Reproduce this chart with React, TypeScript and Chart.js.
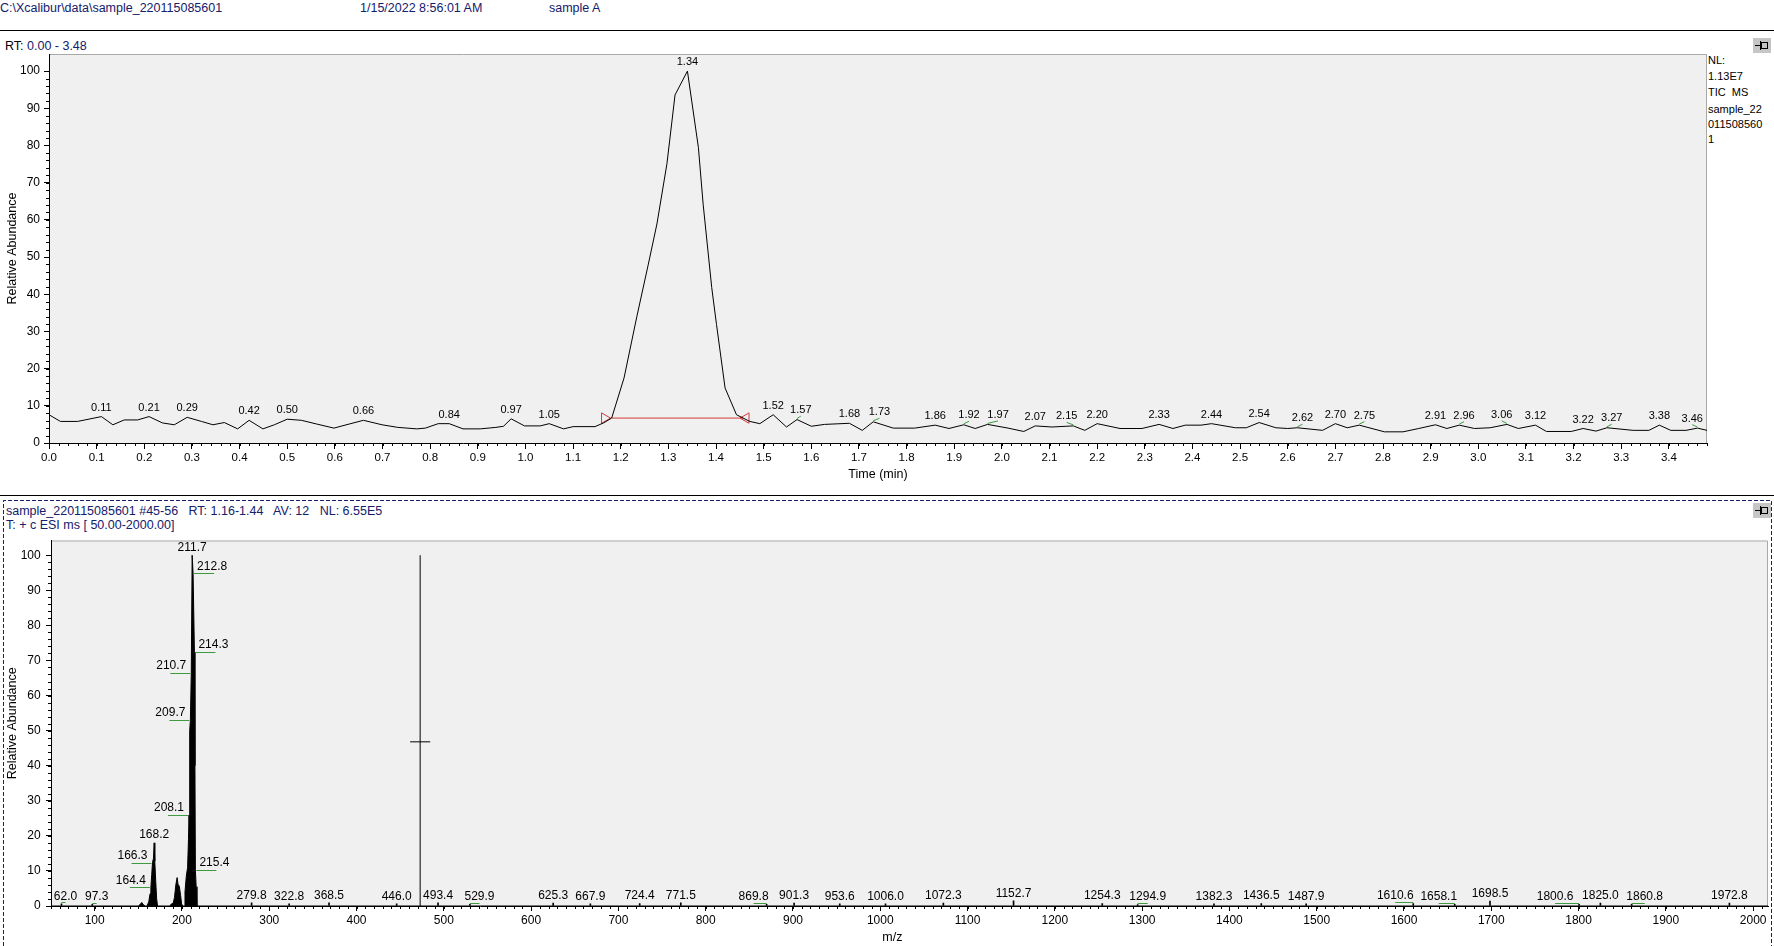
import React, { useEffect, useRef } from "react";
import { Chart, registerables } from "chart.js";

Chart.register(...registerables);

const FONT = '"Liberation Sans", Arial, Helvetica, sans-serif';
const NAVY = "#14206c";
const GREEN = "#3f9a3f";
const RED = "#d23a3a";

// ---------------- TIC chromatogram (top) ----------------
const ticTime = [
  0.0, 0.024, 0.06, 0.11, 0.134, 0.158, 0.186, 0.21, 0.238, 0.263, 0.29, 0.32, 0.344, 0.368, 0.396, 0.42,
  0.449, 0.473, 0.5, 0.53, 0.562, 0.598, 0.63, 0.66, 0.699, 0.732, 0.772, 0.79, 0.817, 0.84, 0.869, 0.905,
  0.938, 0.954, 0.97, 0.998, 1.031, 1.05, 1.08, 1.1, 1.146, 1.164, 1.181, 1.207, 1.234, 1.258, 1.276, 1.297,
  1.314, 1.34, 1.363, 1.373, 1.391, 1.401, 1.419, 1.443, 1.471, 1.492, 1.52, 1.548, 1.57, 1.6, 1.628, 1.68,
  1.707, 1.73, 1.772, 1.817, 1.86, 1.889, 1.92, 1.944, 1.97, 2.013, 2.046, 2.07, 2.105, 2.15, 2.174, 2.2,
  2.248, 2.294, 2.33, 2.359, 2.385, 2.418, 2.44, 2.49, 2.513, 2.54, 2.575, 2.6, 2.62, 2.673, 2.7, 2.725,
  2.75, 2.803, 2.842, 2.875, 2.91, 2.934, 2.96, 2.992, 3.025, 3.06, 3.084, 3.12, 3.143, 3.195, 3.22, 3.247,
  3.27, 3.325, 3.358, 3.38, 3.404, 3.436, 3.46, 3.48,
];
const ticAbundance = [
  7.6, 5.8, 5.8, 7.1, 4.9, 6.2, 6.2, 7.1, 5.4, 4.9, 6.9, 5.8, 4.9, 5.5, 3.8, 6.1,
  3.8, 4.9, 6.4, 6.1, 5.1, 4.0, 5.1, 6.1, 4.9, 4.2, 3.8, 4.0, 5.2, 5.2, 3.8, 3.8,
  4.2, 4.5, 6.5, 4.6, 4.6, 5.2, 3.8, 4.4, 4.4, 5.4, 6.7, 17.5, 34.1, 48.1, 58.9, 75.1,
  93.6, 100, 79.5, 64.2, 41.8, 31.9, 14.8, 7.6, 5.8, 5.2, 7.6, 4.3, 6.3, 4.5, 5.0, 5.3,
  3.4, 5.7, 4.0, 4.0, 4.8, 3.9, 4.9, 3.9, 5.0, 4.0, 3.1, 4.6, 4.3, 4.6, 3.4, 5.2,
  3.9, 3.9, 5.0, 3.9, 4.8, 4.8, 5.2, 4.1, 4.1, 5.5, 4.1, 3.9, 4.1, 3.4, 5.2, 4.1,
  4.8, 3.0, 3.0, 3.9, 4.9, 3.9, 4.8, 3.9, 4.1, 5.0, 3.9, 4.8, 3.1, 3.1, 3.9, 3.2,
  4.1, 3.4, 3.4, 4.8, 3.4, 3.4, 4.0, 3.4,
];
// retention times printed above the peaks
const ticPeakLabelTimes = [
  0.11, 0.21, 0.29, 0.42, 0.5, 0.66, 0.84, 0.97, 1.05, 1.34, 1.52, 1.57, 1.68, 1.73, 1.86, 1.92, 1.97,
  2.07, 2.15, 2.2, 2.33, 2.44, 2.54, 2.62, 2.7, 2.75, 2.91, 2.96, 3.06, 3.12, 3.22, 3.27, 3.38, 3.46,
];
// time at which each label's text is centred (moved labels get a green leader to their peak)
const ticLabelAnchorTimes = [
  0.11, 0.21, 0.29, 0.42, 0.5, 0.66, 0.84, 0.97, 1.05, 1.34, 1.52, 1.578, 1.68, 1.743, 1.86, 1.931, 1.992,
  2.07, 2.136, 2.2, 2.33, 2.44, 2.54, 2.631, 2.7, 2.761, 2.91, 2.97, 3.049, 3.12, 3.22, 3.28, 3.38, 3.449,
];
const integrationBaselineTimes = [1.181, 1.457];
const integrationBaselineLevel = 6.7;
const integrationMarkerTimes = [1.166, 1.463];
const integrationMarkerRotation = [90, -90];

const rtMin = 0;
const rtMax = 3.48;
const rtTicks = [
  0.0, 0.1, 0.2, 0.3, 0.4, 0.5, 0.6, 0.7, 0.8, 0.9, 1.0, 1.1, 1.2, 1.3, 1.4, 1.5, 1.6, 1.7,
  1.8, 1.9, 2.0, 2.1, 2.2, 2.3, 2.4, 2.5, 2.6, 2.7, 2.8, 2.9, 3.0, 3.1, 3.2, 3.3, 3.4,
];
const abundanceTicks = [0, 10, 20, 30, 40, 50, 60, 70, 80, 90, 100];

// ---------------- Mass spectrum (bottom) ----------------
const profileMz = [
  50, 150, 152, 154, 156, 158, 160, 162, 163.5, 164.4, 165.4, 166.3, 167.4, 168.2, 168.9, 170.0, 171.0, 172.0,
  186, 188, 190, 191.5, 193.0, 194.5, 195.5, 197.0, 198.5, 199.6, 201.0, 202.5, 203.5, 205.0, 206.5, 207.5,
  208.1, 208.6, 209.2, 209.7, 210.7, 211.7, 212.8, 214.3, 214.9, 215.4, 216.3, 217.2, 2017,
];
const profileAbundance = [
  0, 0, 0.4, 1.0, 0.3, 0, 0, 1.2, 3.5, 5.3, 9.0, 12.4, 13.6, 18.0, 12.8, 7.0, 2.2, 0,
  0, 0.6, 0.8, 2.5, 6.0, 8.1, 6.2, 5.6, 3.0, 0.6, 0, 0, 4.0, 8.5, 11.0, 19.0,
  25.9, 21.0, 50.0, 53.1, 66.4, 100, 94.8, 72.4, 40.0, 10.3, 5.5, 0, 0,
];
const profileTopLabels = [168.2, 211.7];
const profileLeftLabels = [164.4, 166.3, 208.1, 209.7, 210.7];
const profileRightLabels = [212.8, 214.3, 215.4];

const stickMz = [
  62.0, 97.3, 279.8, 322.8, 368.5, 446.0, 493.4, 529.9, 625.3, 667.9, 724.4, 771.5, 869.8, 901.3, 953.6,
  1006.0, 1072.3, 1152.7, 1254.3, 1294.9, 1382.3, 1436.5, 1487.9, 1610.6, 1658.1, 1698.5, 1800.6, 1825.0,
  1860.8, 1972.8,
];
const stickAbundance = [
  0.6, 0.5, 0.9, 0.6, 0.9, 0.6, 0.9, 0.5, 0.8, 0.6, 0.7, 0.9, 0.5, 0.8, 0.6,
  0.6, 0.8, 1.5, 0.7, 0.4, 0.6, 0.7, 0.6, 0.7, 0.5, 1.4, 0.5, 0.8,
  0.5, 0.8,
];
// m/z at which each stick's label text is centred (moved labels get a green leader)
const stickLabelMz = [
  66.6, 102.3, 279.8, 322.8, 368.5, 446.0, 493.4, 540.9, 625.3, 667.9, 724.4, 771.5, 854.9, 901.3, 953.6,
  1006.0, 1072.3, 1152.7, 1254.3, 1306.4, 1382.3, 1436.5, 1487.9, 1590.0, 1639.8, 1698.5, 1773.1, 1825.0,
  1875.7, 1972.8,
];

const cursorMz = 472.9;
const cursorTop = 100;
const cursorLevel = 46.8;
const cursorHalfWidth = 11.5;

const mzMin = 50;
const mzMax = 2017;
const mzTicks = [
  100, 200, 300, 400, 500, 600, 700, 800, 900, 1000, 1100, 1200, 1300, 1400, 1500, 1600, 1700, 1800, 1900, 2000,
];

// ---------------- helpers ----------------
function valueAt(xs: number[], ys: number[], x: number): number {
  for (let i = 0; i < xs.length; i++) {
    if (Math.abs(xs[i] - x) < 1e-9) return ys[i];
    if (i > 0 && xs[i - 1] < x && x < xs[i]) {
      const f = (x - xs[i - 1]) / (xs[i] - xs[i - 1]);
      return ys[i - 1] + f * (ys[i] - ys[i - 1]);
    }
  }
  return 0;
}

const plotAreaPlugin = {
  id: "plotArea",
  beforeDraw(chart: any) {
    const { ctx, chartArea: a } = chart;
    ctx.save();
    ctx.fillStyle = "#f0f0f0";
    ctx.fillRect(a.left, a.top, a.right - a.left, a.bottom - a.top);
    ctx.strokeStyle = "#a9a9a9";
    ctx.lineWidth = 1;
    ctx.beginPath();
    ctx.moveTo(a.left, a.top + 0.5);
    ctx.lineTo(a.right - 0.5, a.top + 0.5);
    ctx.lineTo(a.right - 0.5, a.bottom);
    ctx.stroke();
    ctx.restore();
  },
};

function minorTicksPlugin(id: string, xStep: number, yStep: number, xLen: number, yLen: number) {
  return {
    id,
    afterDraw(chart: any) {
      const { ctx, chartArea: a } = chart;
      const xs = chart.scales.x;
      const ys = chart.scales.y;
      ctx.save();
      ctx.strokeStyle = "#000";
      ctx.lineWidth = 1;
      ctx.beginPath();
      const nx = Math.floor((xs.max - xs.min) / xStep + 1e-6);
      for (let i = 0; i <= nx; i++) {
        const px = Math.round(xs.getPixelForValue(xs.min + i * xStep)) + 0.5;
        ctx.moveTo(px, a.bottom);
        ctx.lineTo(px, a.bottom + xLen);
      }
      const ny = Math.floor((100 - ys.min) / yStep + 1e-6);
      for (let i = 0; i <= ny; i++) {
        const py = Math.round(ys.getPixelForValue(ys.min + i * yStep)) + 0.5;
        ctx.moveTo(a.left, py);
        ctx.lineTo(a.left - yLen, py);
      }
      ctx.stroke();
      ctx.restore();
    },
  };
}

const ticLabelPlugin = {
  id: "ticLabels",
  afterDatasetsDraw(chart: any) {
    const { ctx } = chart;
    const xs = chart.scales.x;
    const ys = chart.scales.y;
    ctx.save();
    ctx.font = `11px ${FONT}`;
    ctx.textAlign = "center";
    ctx.textBaseline = "middle";
    ctx.fillStyle = "#000";
    ticPeakLabelTimes.forEach((t, i) => {
      const v = valueAt(ticTime, ticAbundance, t);
      const px = xs.getPixelForValue(t);
      const lx = xs.getPixelForValue(ticLabelAnchorTimes[i]);
      const py = ys.getPixelForValue(v);
      if (Math.abs(lx - px) > 0.5) {
        ctx.fillText(t.toFixed(2), lx, py - 9.5);
        ctx.strokeStyle = GREEN;
        ctx.lineWidth = 1;
        ctx.beginPath();
        ctx.moveTo(px, py - 1);
        ctx.lineTo(lx, py - 3.5);
        ctx.stroke();
      } else {
        ctx.fillText(t.toFixed(2), px, py - 9);
      }
    });
    ctx.restore();
  },
};

const specLabelPlugin = {
  id: "specLabels",
  afterDatasetsDraw(chart: any) {
    const { ctx, chartArea: a } = chart;
    const xs = chart.scales.x;
    const ys = chart.scales.y;
    const green = (x1: number, x2: number, y: number) => {
      ctx.strokeStyle = GREEN;
      ctx.lineWidth = 1;
      ctx.beginPath();
      const yy = Math.round(y) + 0.5;
      ctx.moveTo(x1, yy);
      ctx.lineTo(x2, yy);
      ctx.stroke();
    };
    ctx.save();
    ctx.font = `12px ${FONT}`;
    ctx.textBaseline = "middle";
    ctx.fillStyle = "#000";
    profileTopLabels.forEach((mz) => {
      const px = xs.getPixelForValue(mz);
      const py = ys.getPixelForValue(valueAt(profileMz, profileAbundance, mz));
      ctx.textAlign = "center";
      ctx.fillText(mz.toFixed(1), px, py - 8);
    });
    profileLeftLabels.forEach((mz) => {
      const px = xs.getPixelForValue(mz);
      const py = ys.getPixelForValue(valueAt(profileMz, profileAbundance, mz));
      green(px - 21, px - 1, py);
      ctx.textAlign = "right";
      ctx.fillText(mz.toFixed(1), px - 5, py - 7);
    });
    profileRightLabels.forEach((mz) => {
      const px = xs.getPixelForValue(mz);
      const py = ys.getPixelForValue(valueAt(profileMz, profileAbundance, mz));
      green(px + 1, px + 21, py);
      ctx.textAlign = "left";
      ctx.fillText(mz.toFixed(1), px + 4, py - 7);
    });
    stickMz.forEach((mz, i) => {
      const px = xs.getPixelForValue(mz);
      const lx = xs.getPixelForValue(stickLabelMz[i]);
      const py = ys.getPixelForValue(stickAbundance[i]);
      ctx.textAlign = "center";
      if (Math.abs(lx - px) > 0.5) {
        green(Math.min(px, lx), Math.max(px, lx), py - 1.5);
      }
      ctx.fillText(mz.toFixed(1), lx, py - 7.5);
    });
    // axis title
    ctx.textAlign = "center";
    ctx.font = `12.5px ${FONT}`;
    ctx.fillText("m/z", a.left + 0.49 * (a.right - a.left), a.bottom + 32);
    ctx.restore();
  },
};

function Txt(props: { x: number; y: number; size?: number; color?: string; children: any }) {
  const size = props.size ?? 12.5;
  return (
    <div
      style={{
        position: "absolute",
        left: props.x,
        top: props.y - size * 0.6,
        fontSize: size,
        lineHeight: `${size * 1.2}px`,
        fontFamily: FONT,
        color: props.color ?? "#000",
        whiteSpace: "pre",
      }}
    >
      {props.children}
    </div>
  );
}

function Pin(props: { x: number; y: number }) {
  return (
    <svg style={{ position: "absolute", left: props.x, top: props.y }} width={18} height={15}>
      <rect x={0} y={0} width={18} height={15} fill="#c6c6c6" />
      <line x1={2} y1={7.5} x2={7} y2={7.5} stroke="#000" strokeWidth={1} />
      <line x1={7.5} y1={3} x2={7.5} y2={12} stroke="#000" strokeWidth={1} />
      <rect x={8.5} y={4.5} width={6} height={6} fill="none" stroke="#000" strokeWidth={1} />
    </svg>
  );
}

export default function App() {
  const topRef = useRef<HTMLCanvasElement | null>(null);
  const botRef = useRef<HTMLCanvasElement | null>(null);

  useEffect(() => {
    Chart.defaults.font.family = FONT;
    Chart.defaults.color = "#000";

    const topChart = new Chart(topRef.current as HTMLCanvasElement, {
      type: "scatter",
      data: {
        datasets: [
          {
            label: "TIC MS",
            data: ticTime.map((t, i) => ({ x: t, y: ticAbundance[i] })),
            showLine: true,
            borderColor: "#000",
            borderWidth: 1,
            pointRadius: 0,
            tension: 0,
            fill: false,
          },
          {
            label: "Integration baseline",
            data: integrationBaselineTimes.map((t) => ({ x: t, y: integrationBaselineLevel })),
            showLine: true,
            borderColor: RED,
            borderWidth: 1,
            pointRadius: 0,
          },
          {
            label: "Integration markers",
            data: integrationMarkerTimes.map((t) => ({ x: t, y: integrationBaselineLevel })),
            showLine: false,
            pointStyle: "triangle",
            pointRotation: integrationMarkerRotation,
            pointRadius: 6,
            pointBorderColor: RED,
            pointBackgroundColor: "rgba(0,0,0,0)",
            pointBorderWidth: 1,
          },
        ],
      } as any,
      options: {
        animation: false,
        responsive: false,
        maintainAspectRatio: false,
        events: [],
        layout: { padding: { left: 0, right: 67, top: 19, bottom: 2 } },
        plugins: { legend: { display: false }, tooltip: { enabled: false } },
        scales: {
          x: {
            type: "linear",
            min: rtMin,
            max: rtMax,
            afterFit: (s: any) => {
              s.height = 45;
            },
            afterBuildTicks: (s: any) => {
              s.ticks = rtTicks.map((v) => ({ value: v }));
            },
            ticks: {
              callback: (v: any) => Number(v).toFixed(1),
              font: { size: 11.5 },
              color: "#000",
              padding: 2.4,
              maxRotation: 0,
              autoSkip: false,
            },
            grid: { display: true, drawOnChartArea: false, drawTicks: true, tickLength: 6, color: "#000" },
            border: { display: true, color: "#000", width: 1 },
            title: {
              display: true,
              text: "Time (min)",
              color: "#000",
              font: { size: 12.5 },
              padding: { top: 0, bottom: 5.5 },
            },
          },
          y: {
            type: "linear",
            min: 0,
            max: 104.6,
            afterFit: (s: any) => {
              s.width = 49;
            },
            afterBuildTicks: (s: any) => {
              s.ticks = abundanceTicks.map((v) => ({ value: v }));
            },
            ticks: { font: { size: 12 }, color: "#000", padding: 4, autoSkip: false },
            grid: { display: true, drawOnChartArea: false, drawTicks: true, tickLength: 5, color: "#000" },
            border: { display: true, color: "#000", width: 1 },
            title: {
              display: true,
              text: "Relative Abundance",
              color: "#000",
              font: { size: 12.5 },
              padding: { top: 5.2, bottom: 0 },
            },
          },
        },
      } as any,
      plugins: [plotAreaPlugin, minorTicksPlugin("topMinor", 0.02, 2, 3, 3), ticLabelPlugin],
    });

    const botChart = new Chart(botRef.current as HTMLCanvasElement, {
      type: "scatter",
      data: {
        datasets: [
          {
            type: "scatter",
            label: "Profile",
            data: profileMz.map((m, i) => ({ x: m, y: profileAbundance[i] })),
            showLine: true,
            fill: "origin",
            borderColor: "#000",
            backgroundColor: "#000",
            borderWidth: 1,
            pointRadius: 0,
            tension: 0,
          },
          {
            type: "bar",
            label: "Centroids",
            data: stickMz.map((m, i) => ({ x: m, y: stickAbundance[i] })),
            backgroundColor: "#000",
            borderWidth: 0,
            barThickness: 1,
            grouped: false,
          },
          {
            type: "scatter",
            label: "Cursor",
            data: [
              { x: cursorMz, y: 0 },
              { x: cursorMz, y: cursorTop },
            ],
            showLine: true,
            borderColor: "#000",
            borderWidth: 1,
            pointRadius: 0,
          },
          {
            type: "scatter",
            label: "Crosshair",
            data: [
              { x: cursorMz - cursorHalfWidth, y: cursorLevel },
              { x: cursorMz + cursorHalfWidth, y: cursorLevel },
            ],
            showLine: true,
            borderColor: "#000",
            borderWidth: 1,
            pointRadius: 0,
          },
        ],
      } as any,
      options: {
        animation: false,
        responsive: false,
        maintainAspectRatio: false,
        events: [],
        layout: { padding: { left: 0, right: 6, top: 5, bottom: 0 } },
        plugins: { legend: { display: false }, tooltip: { enabled: false } },
        scales: {
          x: {
            type: "linear",
            min: mzMin,
            max: mzMax,
            offset: false,
            afterFit: (s: any) => {
              s.height = 40;
            },
            afterBuildTicks: (s: any) => {
              s.ticks = mzTicks.map((v) => ({ value: v }));
            },
            ticks: {
              callback: (v: any) => String(v),
              font: { size: 12 },
              color: "#000",
              padding: 2.8,
              maxRotation: 0,
              autoSkip: false,
            },
            grid: { display: true, drawOnChartArea: false, drawTicks: true, tickLength: 5, color: "#000", offset: false },
            border: { display: true, color: "#000", width: 1 },
            title: { display: false },
          },
          y: {
            type: "linear",
            min: 0,
            max: 104.2,
            afterFit: (s: any) => {
              s.width = 51;
            },
            afterBuildTicks: (s: any) => {
              s.ticks = abundanceTicks.map((v) => ({ value: v }));
            },
            ticks: { font: { size: 12 }, color: "#000", padding: 5.3, autoSkip: false },
            grid: { display: true, drawOnChartArea: false, drawTicks: true, tickLength: 5, color: "#000" },
            border: { display: true, color: "#000", width: 1 },
            title: {
              display: true,
              text: "Relative Abundance",
              color: "#000",
              font: { size: 12.5 },
              padding: { top: 5.3, bottom: 0 },
            },
          },
        },
      } as any,
      plugins: [plotAreaPlugin, minorTicksPlugin("botMinor", 10, 2, 3, 3), specLabelPlugin],
    });

    return () => {
      topChart.destroy();
      botChart.destroy();
    };
  }, []);

  return (
    <div
      style={{
        position: "absolute",
        left: 0,
        top: 0,
        width: 1774,
        height: 946,
        background: "#fff",
        overflow: "hidden",
        fontFamily: FONT,
      }}
    >
      <svg style={{ position: "absolute", left: 0, top: 0 }} width={1774} height={946}>
        <line x1={0} y1={30.5} x2={1774} y2={30.5} stroke="#000" strokeWidth={1} />
        <line x1={0} y1={495.5} x2={1774} y2={495.5} stroke="#000" strokeWidth={1} />
        <path
          d="M3.5 946 V500.5 H1771.5 V946"
          fill="none"
          stroke={NAVY}
          strokeWidth={1}
          strokeDasharray="4 2"
        />
      </svg>

      <Txt x={0} y={8} color={NAVY}>{"C:\\Xcalibur\\data\\sample_220115085601"}</Txt>
      <Txt x={360} y={8} color={NAVY}>{"1/15/2022 8:56:01 AM"}</Txt>
      <Txt x={549} y={8} color={NAVY}>{"sample A"}</Txt>

      <Txt x={5} y={46.5}>
        <span style={{ color: "#000" }}>{"RT: "}</span>
        <span style={{ color: NAVY }}>{"0.00 - 3.48"}</span>
      </Txt>

      <Txt x={1708} y={61} size={11}>{"NL:"}</Txt>
      <Txt x={1708} y={77} size={11}>{"1.13E7"}</Txt>
      <Txt x={1708} y={93} size={11}>{"TIC  MS"}</Txt>
      <Txt x={1708} y={110} size={11}>{"sample_22"}</Txt>
      <Txt x={1708} y={125} size={11}>{"011508560"}</Txt>
      <Txt x={1708} y={140} size={11}>{"1"}</Txt>
      <Pin x={1753} y={38} />

      <Txt x={6} y={511} color={NAVY}>{"sample_220115085601 #45-56   RT: 1.16-1.44   AV: 12   NL: 6.55E5"}</Txt>
      <Txt x={6} y={525} color={NAVY}>{"T: + c ESI ms [ 50.00-2000.00]"}</Txt>
      <Pin x={1753} y={503} />

      <canvas
        ref={topRef}
        width={1774}
        height={455}
        style={{ position: "absolute", left: 0, top: 35, width: 1774, height: 455 }}
      />
      <canvas
        ref={botRef}
        width={1774}
        height={418}
        style={{ position: "absolute", left: 0, top: 528, width: 1774, height: 418 }}
      />
    </div>
  );
}
